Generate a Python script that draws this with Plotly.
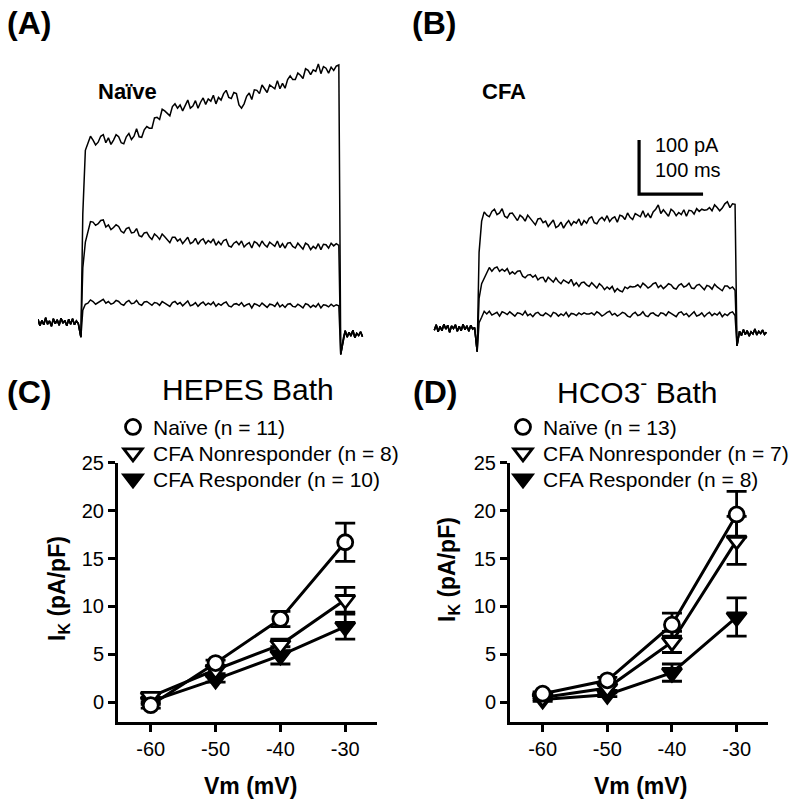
import plotly.graph_objects as go

FONT = "Liberation Sans, Arial, sans-serif"

# ---------------- Panel A / B : current traces (time in ms, current in pA) ----------------
t_pre = list(range(0, 64, 3))          # pre-pulse baseline sampling (ms)
t_onset = 67
t_pulse = list(range(70, 471, 4))      # sampling during the step (ms)
t_offset = 473

A_pre = [5, -7, 3, -5, 8, -4, 2, -8, 6, -3, 4, -6, 7, -2, 3, -7, 5, -4, 6, -5, 2, -3]
A_onset = -28
A_top = [200, 318, 331, 344, 337, 328, 333, 344, 347, 332,
         341, 329, 337, 347, 343, 332, 330, 343, 349, 338,
         344, 358, 343, 342, 356, 362, 359, 359, 378, 379,
         375, 394, 391, 386, 382, 399, 404, 396, 402, 391,
         400, 411, 396, 400, 410, 396, 407, 415, 403, 413,
         409, 420, 404, 416, 411, 423, 429, 416, 414, 425,
         423, 402, 396, 404, 418, 424, 412, 430, 429, 423,
         439, 431, 425, 439, 436, 432, 447, 432, 442, 433,
         449, 456, 449, 449, 461, 457, 451, 469, 466, 458,
         467, 464, 478, 460, 473, 470, 461, 472, 466, 474, 476]
A_mid = [100, 148, 169, 186, 185, 179, 182, 188, 189, 176,
         180, 171, 175, 180, 177, 168, 165, 173, 175, 165,
         166, 173, 160, 158, 165, 166, 158, 153, 163, 159,
         153, 163, 158, 152, 147, 157, 157, 150, 154, 145,
         150, 157, 145, 148, 155, 144, 151, 154, 145, 151,
         147, 154, 142, 149, 143, 151, 153, 141, 139, 146,
         149, 143, 150, 139, 144, 147, 137, 149, 146, 140,
         150, 143, 139, 148, 144, 140, 150, 138, 145, 137,
         146, 147, 140, 137, 146, 140, 135, 146, 143, 134,
         140, 136, 145, 134, 144, 143, 137, 146, 141, 145, 142]
A_low = [22, 33, 35, 41, 38, 33, 36, 40, 42, 35,
         38, 33, 35, 40, 38, 33, 31, 37, 40, 34,
         35, 40, 33, 31, 37, 38, 34, 31, 36, 35,
         31, 38, 35, 32, 29, 36, 38, 33, 36, 30,
         34, 39, 30, 32, 36, 29, 34, 37, 31, 35,
         32, 37, 29, 34, 31, 35, 37, 30, 28, 33,
         34, 31, 36, 29, 32, 34, 26, 34, 32, 29,
         35, 30, 27, 33, 32, 29, 36, 28, 32, 27,
         33, 34, 29, 28, 33, 30, 26, 34, 32, 27,
         31, 28, 34, 26, 32, 31, 28, 33, 29, 32, 30]
A_offset = -60
A_post = [-30, -16, -28, -19, -26, -15, -29, -21, -25, -18, -27]

B_pre = [-4, 6, -7, 3, -5, 7, -2, 5, -8, 4, -1, 6, -6, 3, -5, 7, -3, 4, -6, 5, -2, 1]
B_onset = -44
B_top = [140, 198, 215, 209, 206, 216, 220, 210, 213, 221,
         207, 204, 212, 213, 205, 199, 209, 205, 198, 209,
         203, 197, 191, 202, 203, 195, 198, 188, 193, 200,
         186, 189, 196, 185, 193, 199, 190, 197, 194, 202,
         190, 199, 194, 203, 206, 195, 193, 201, 205, 199,
         208, 197, 203, 206, 196, 209, 207, 201, 213, 205,
         201, 212, 209, 206, 217, 205, 212, 204, 215, 220,
         228, 212, 219, 213, 207, 220, 216, 208, 214, 210,
         219, 207, 218, 217, 211, 221, 216, 220, 218, 219,
         223, 217, 228, 223, 217, 222, 230, 234, 223, 230, 229]
B_mid = [55, 82, 92, 102, 112, 105, 111, 113, 105, 109,
         105, 110, 100, 104, 100, 105, 106, 96, 93, 98,
         99, 94, 98, 89, 93, 94, 85, 94, 90, 85,
         93, 86, 82, 89, 86, 83, 90, 79, 84, 77,
         84, 85, 80, 77, 84, 79, 74, 82, 78, 71,
         76, 72, 77, 67, 73, 69, 67, 76, 73, 77,
         76, 77, 80, 75, 83, 79, 74, 77, 82, 84,
         75, 79, 73, 77, 82, 80, 74, 72, 79, 82,
         76, 78, 83, 74, 73, 79, 81, 76, 71, 79,
         77, 72, 81, 76, 73, 69, 78, 78, 73, 76, 70]
B_low = [10, 20, 31, 26, 31, 24, 27, 29, 22, 30,
         28, 25, 30, 25, 22, 28, 27, 24, 31, 23,
         26, 21, 27, 29, 24, 23, 28, 25, 21, 29,
         27, 22, 26, 23, 29, 21, 27, 26, 23, 28,
         25, 28, 26, 26, 28, 24, 30, 27, 22, 25,
         29, 31, 24, 27, 22, 25, 29, 27, 22, 20,
         26, 29, 23, 25, 30, 23, 21, 27, 28, 24,
         22, 28, 27, 23, 30, 27, 24, 21, 28, 30,
         24, 27, 21, 25, 30, 22, 24, 28, 21, 26,
         29, 23, 27, 24, 29, 21, 26, 23, 28, 30, 23]
B_offset = -33
B_post = [-6, -14, -3, -12, -5, -15, -7, -11, -2, -13, -6, -10, -4, -12, -8]

# scale bar (panel B)
sb_t0, sb_i0 = 320, 248      # corner of the scale bar (ms, pA)
sb_ms, sb_pA = 100, 100

# ---------------- Panel C / D : I-V data ----------------
vm = [-60, -50, -40, -30]
vm_text = ["-60", "-50", "-40", "-30"]
C_naive = [-0.3, 4.1, 8.7, 16.7]
C_naive_err = [0.3, 0.3, 0.8, 2.0]
C_nonresp = [0.6, 3.4, 6.0, 10.7]
C_nonresp_err = [0.3, 0.4, 0.6, 1.3]
C_resp = [0.1, 2.4, 4.9, 7.9]
C_resp_err = [0.3, 0.3, 0.9, 1.3]

D_naive = [0.9, 2.3, 8.1, 19.6]
D_naive_err = [0.2, 0.3, 1.2, 2.4]
D_nonresp = [0.5, 1.5, 6.3, 16.9]
D_nonresp_err = [0.2, 0.3, 1.1, 2.5]
D_resp = [0.3, 0.8, 3.1, 8.9]
D_resp_err = [0.2, 0.2, 0.9, 2.0]

C_labels = ["Naïve (n = 11)", "CFA Nonresponder (n = 8)", "CFA Responder (n = 10)"]
D_labels = ["Naïve (n = 13)", "CFA Nonresponder (n = 7)", "CFA Responder (n = 8)"]
y_ticks = [0, 5, 10, 15, 20, 25]

W, H = 800, 804


def px(x):
    return x / W


def py(y):
    return 1 - y / H


fig = go.Figure()


def full_trace(pre, onset, pulse, offset, post):
    t_post = [477 + 3 * k for k in range(len(post))]
    t = t_pre + [t_onset] + t_pulse + [t_offset] + t_post
    y = pre + [onset] + pulse + [offset] + post
    return t, y


for pulse in (A_top, A_mid, A_low):
    t, y = full_trace(A_pre, A_onset, pulse, A_offset, A_post)
    fig.add_trace(go.Scatter(x=t, y=y, mode="lines", line=dict(color="black", width=1.5),
                             xaxis="x", yaxis="y", showlegend=False, hoverinfo="skip"))
for pulse in (B_top, B_mid, B_low):
    t, y = full_trace(B_pre, B_onset, pulse, B_offset, B_post)
    fig.add_trace(go.Scatter(x=t, y=y, mode="lines", line=dict(color="black", width=1.5),
                             xaxis="x2", yaxis="y2", showlegend=False, hoverinfo="skip"))

fig.add_trace(go.Scatter(x=[sb_t0, sb_t0, sb_t0 + sb_ms], y=[sb_i0 + sb_pA, sb_i0, sb_i0],
                         mode="lines", line=dict(color="black", width=3.2),
                         xaxis="x2", yaxis="y2", showlegend=False, hoverinfo="skip"))

styles = [
    dict(symbol="circle", color="white", size=15),
    dict(symbol="triangle-down", color="white", size=17),
    dict(symbol="triangle-down", color="black", size=17),
]


def iv_panel(xa, ya, legends, labels, series):
    # draw responder first, naive last (on top)
    for i in (2, 1, 0):
        yv, err = series[i]
        st = styles[i]
        fig.add_trace(go.Scatter(
            x=vm, y=yv, mode="lines+markers", xaxis=xa, yaxis=ya,
            line=dict(color="black", width=3),
            marker=dict(symbol=st["symbol"], size=st["size"], color=st["color"],
                        line=dict(color="black", width=2.8)),
            error_y=dict(type="data", array=err, color="black", thickness=2.8, width=10),
            showlegend=False, hoverinfo="skip"))
    for i in range(3):
        st = styles[i]
        fig.add_trace(go.Scatter(
            x=[None], y=[None], mode="markers", xaxis=xa, yaxis=ya, name=labels[i],
            marker=dict(symbol=st["symbol"], size=st["size"], color=st["color"],
                        line=dict(color="black", width=2.8)),
            legend=legends[i], showlegend=True))


iv_panel("x3", "y3", ["legend", "legend2", "legend3"], C_labels,
         [(C_naive, C_naive_err), (C_nonresp, C_nonresp_err), (C_resp, C_resp_err)])
iv_panel("x4", "y4", ["legend4", "legend5", "legend6"], D_labels,
         [(D_naive, D_naive_err), (D_nonresp, D_nonresp_err), (D_resp, D_resp_err)])

hidden = dict(visible=False, showgrid=False, zeroline=False, fixedrange=True)
iv_x = dict(range=[-65.05, -25.1], tickvals=vm, ticktext=vm_text, ticks="outside", ticklen=7,
            tickwidth=2.6, tickcolor="black", showline=True, linewidth=3, linecolor="black",
            showgrid=False, zeroline=False, tickfont=dict(family=FONT, size=20, color="black"))
iv_y = dict(range=[-2.02, 25], tickvals=y_ticks, ticks="outside", ticklen=7, tickwidth=2.6,
            tickcolor="black", showline=True, linewidth=3, linecolor="black",
            showgrid=False, zeroline=False, tickfont=dict(family=FONT, size=20, color="black"))

legend_style = dict(font=dict(family=FONT, size=21, color="black"), bgcolor="rgba(0,0,0,0)",
                    itemsizing="trace", xanchor="left", yanchor="middle", borderwidth=0)
rows = [427.3, 453.3, 479.3]
leg_xC, leg_xD = 113, 503

fig.update_layout(
    width=W, height=H, margin=dict(l=0, r=0, t=0, b=0, pad=0, autoexpand=False),
    paper_bgcolor="white", plot_bgcolor="white",
    font=dict(family=FONT, color="black"),
    xaxis=dict(domain=[px(38), px(365)], range=[0, 510.9], anchor="y", **hidden),
    yaxis=dict(domain=[py(365), py(45)], range=[-79.6, 513], anchor="x", **hidden),
    xaxis2=dict(domain=[px(433), px(770)], range=[-2, 524.6], anchor="y2", **hidden),
    yaxis2=dict(domain=[py(365), py(45)], range=[-68.5, 524.1], anchor="x2", **hidden),
    xaxis3=dict(domain=[px(118), px(377)], anchor="y3", **iv_x),
    yaxis3=dict(domain=[py(721.7), py(462.7)], anchor="x3", **iv_y),
    xaxis4=dict(domain=[px(510), px(768.3)], anchor="y4", **iv_x),
    yaxis4=dict(domain=[py(721.7), py(462.7)], anchor="x4", **iv_y),
    legend=dict(x=px(leg_xC), y=py(rows[0]), **legend_style),
    legend2=dict(x=px(leg_xC), y=py(rows[1]), **legend_style),
    legend3=dict(x=px(leg_xC), y=py(rows[2]), **legend_style),
    legend4=dict(x=px(leg_xD), y=py(rows[0]), **legend_style),
    legend5=dict(x=px(leg_xD), y=py(rows[1]), **legend_style),
    legend6=dict(x=px(leg_xD), y=py(rows[2]), **legend_style),
)


def note(text, x, y, size, xanchor="center", angle=0):
    fig.add_annotation(text=text, x=px(x), y=py(y), xref="paper", yref="paper",
                       showarrow=False, xanchor=xanchor, yanchor="middle", textangle=angle,
                       font=dict(family=FONT, size=size, color="black"))


note("<b>(A)</b>", 29, 23, 32)
note("<b>(B)</b>", 434, 23, 32)
note("<b>(C)</b>", 29, 392, 32)
note("<b>(D)</b>", 435, 392, 32)
note("<b>Naïve</b>", 127.5, 91, 22)
note("<b>CFA</b>", 504, 91, 22)
note("100 pA", 653, 145, 20, xanchor="left")
note("100 ms", 653, 170, 20, xanchor="left")
note("HEPES Bath", 247.5, 390, 30)
note("HCO3<sup>-</sup> Bath", 636.7, 390, 30)
note("<b>I<sub>K</sub> (pA/pF)</b>", 58, 588, 23, angle=-90)
note("<b>I<sub>K</sub> (pA/pF)</b>", 448, 570, 23, angle=-90)
note("<b>Vm (mV)</b>", 250.8, 786, 23)
note("<b>Vm (mV)</b>", 640, 786, 23)

fig.write_html("out.html", config={"displayModeBar": False},
               post_script="document.body.style.margin='0px';")
